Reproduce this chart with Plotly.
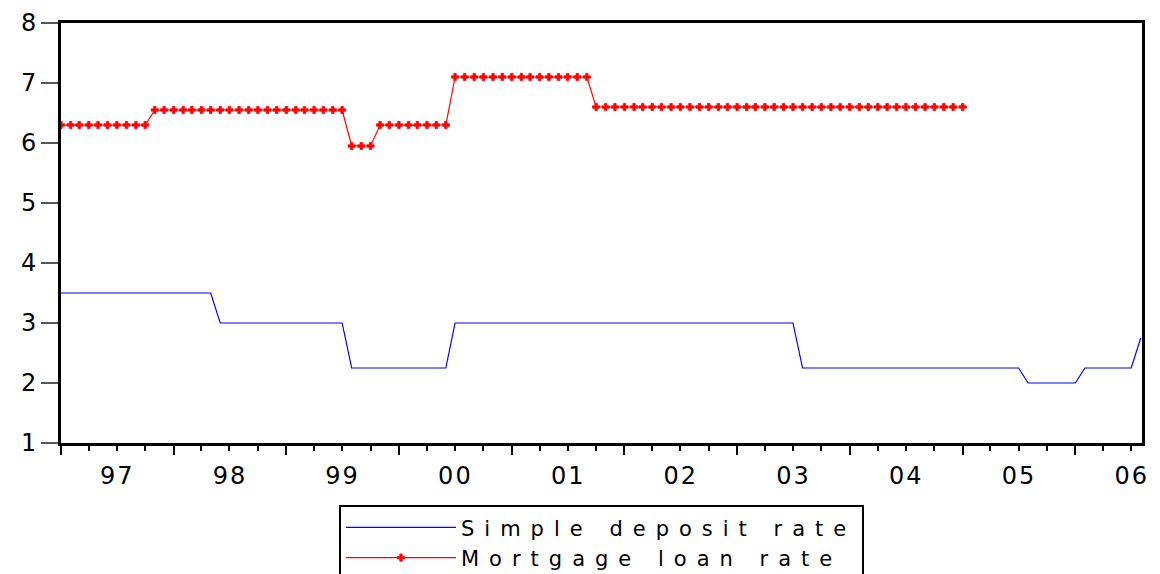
import pandas as pd
import plotly.graph_objects as go

# Monthly observations, 1997M01 .. 2006M08
months = pd.date_range("1997-01-01", "2006-08-01", freq="MS")

deposit_rate = [
    3.5, 3.5, 3.5, 3.5, 3.5, 3.5, 3.5, 3.5, 3.5, 3.5, 3.5, 3.5,          # 1997
    3.5, 3.5, 3.5, 3.5, 3.5, 3.0, 3.0, 3.0, 3.0, 3.0, 3.0, 3.0,          # 1998
    3.0, 3.0, 3.0, 3.0, 3.0, 3.0, 3.0, 2.25, 2.25, 2.25, 2.25, 2.25,     # 1999
    2.25, 2.25, 2.25, 2.25, 2.25, 2.25, 3.0, 3.0, 3.0, 3.0, 3.0, 3.0,    # 2000
    3.0, 3.0, 3.0, 3.0, 3.0, 3.0, 3.0, 3.0, 3.0, 3.0, 3.0, 3.0,          # 2001
    3.0, 3.0, 3.0, 3.0, 3.0, 3.0, 3.0, 3.0, 3.0, 3.0, 3.0, 3.0,          # 2002
    3.0, 3.0, 3.0, 3.0, 3.0, 3.0, 3.0, 2.25, 2.25, 2.25, 2.25, 2.25,     # 2003
    2.25, 2.25, 2.25, 2.25, 2.25, 2.25, 2.25, 2.25, 2.25, 2.25, 2.25, 2.25,  # 2004
    2.25, 2.25, 2.25, 2.25, 2.25, 2.25, 2.25, 2.0, 2.0, 2.0, 2.0, 2.0,   # 2005
    2.0, 2.25, 2.25, 2.25, 2.25, 2.25, 2.25, 2.75,                       # 2006
]

mortgage_rate = [
    6.3, 6.3, 6.3, 6.3, 6.3, 6.3, 6.3, 6.3, 6.3, 6.3, 6.55, 6.55,        # 1997
    6.55, 6.55, 6.55, 6.55, 6.55, 6.55, 6.55, 6.55, 6.55, 6.55, 6.55, 6.55,  # 1998
    6.55, 6.55, 6.55, 6.55, 6.55, 6.55, 6.55, 5.95, 5.95, 5.95, 6.3, 6.3,    # 1999
    6.3, 6.3, 6.3, 6.3, 6.3, 6.3, 7.1, 7.1, 7.1, 7.1, 7.1, 7.1,          # 2000
    7.1, 7.1, 7.1, 7.1, 7.1, 7.1, 7.1, 7.1, 7.1, 6.6, 6.6, 6.6,          # 2001
    6.6, 6.6, 6.6, 6.6, 6.6, 6.6, 6.6, 6.6, 6.6, 6.6, 6.6, 6.6,          # 2002
    6.6, 6.6, 6.6, 6.6, 6.6, 6.6, 6.6, 6.6, 6.6, 6.6, 6.6, 6.6,          # 2003
    6.6, 6.6, 6.6, 6.6, 6.6, 6.6, 6.6, 6.6, 6.6, 6.6, 6.6, 6.6,          # 2004
    6.6, None, None, None, None, None, None, None, None, None, None, None,  # 2005
    None, None, None, None, None, None, None, None,                      # 2006
]

series_names = ["Simple deposit rate", "Mortgage loan rate"]
y_ticks = [1, 2, 3, 4, 5, 6, 7, 8]

FONT = "DejaVu Sans, Liberation Sans, Arial, sans-serif"

def spaced(txt, px):
    return f'<span style="letter-spacing:{px}px">{txt}</span>'

fig = go.Figure()
fig.add_trace(go.Scatter(
    x=months, y=deposit_rate, mode="lines", name=spaced(series_names[0], 10),
    line=dict(color="#0000FF", width=1.2),
))
fig.add_trace(go.Scatter(
    x=months, y=mortgage_rate, mode="lines+markers", name=spaced(series_names[1], 10),
    line=dict(color="#FF0000", width=1.2),
    marker=dict(symbol="cross", size=6, color="#FF0000",
                line=dict(width=0.8, color="#FF0000")),
    connectgaps=False,
))

fig.update_layout(
    width=1160, height=574,
    margin=dict(l=61, r=18, t=23, b=131, autoexpand=False),
    paper_bgcolor="white", plot_bgcolor="white",
    font=dict(family=FONT, size=22, color="black"),
    showlegend=True,
    legend=dict(
        x=0.5, xanchor="center", y=-0.148, yanchor="top",
        bordercolor="black", borderwidth=2, bgcolor="white",
        font=dict(family=FONT, size=21, color="black"),
        tracegroupgap=0, itemwidth=110,
    ),
)

fig.update_xaxes(
    type="date",
    range=["1997-01-01", "2006-08-05"],
    dtick="M12", tick0="1997-01-01",
    tickformat='<span style="letter-spacing:2px">%y</span>',
    ticklabelmode="period",
    ticks="outside", ticklen=9, tickwidth=2, tickcolor="black",
    minor=dict(dtick="M3", tick0="1997-01-01", ticks="outside", ticklen=5,
               tickwidth=1.5, tickcolor="black", showgrid=False),
    showgrid=False, zeroline=False,
    showline=True, linecolor="black", linewidth=3, mirror=True,
    tickfont=dict(family=FONT, size=24, color="black"),
)
fig.update_yaxes(
    range=[1, 8], tickvals=y_ticks,
    ticks="outside", ticklen=17, tickwidth=1.5, tickcolor="#555555",
    showgrid=False, zeroline=False,
    showline=True, linecolor="black", linewidth=3, mirror=True,
    tickfont=dict(family=FONT, size=24, color="black"),
)

fig.write_html("out.html", config={"displayModeBar": False},
               post_script="document.body.style.margin='0';")
